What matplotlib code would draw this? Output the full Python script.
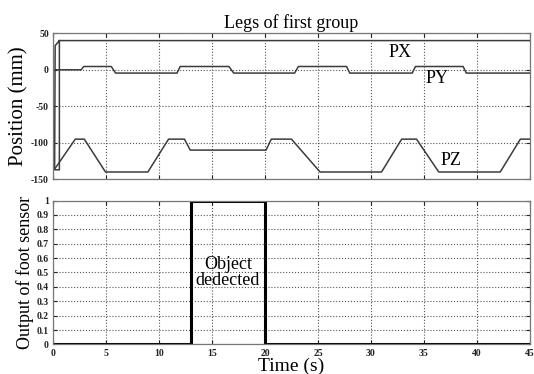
import matplotlib
matplotlib.use('Agg')
import matplotlib.pyplot as plt

# data
px_t = [0.6, 0.6, 0.15, 0.2, 0.6, 45]
px_v = [40, -137, -137, 33, 40, 40]

py_t = [0.2, 2.65, 2.9, 5.5, 5.9, 11.7, 12.0, 16.6, 17.05, 22.8, 23.15, 27.7, 28.0, 33.9, 34.2, 38.7, 39.0, 45]
py_v = [0, 0, 4.5, 4.5, -4.5, -4.5, 4.5, 4.5, -4.5, -4.5, 4.5, 4.5, -4.5, -4.5, 4.5, 4.5, -4.5, -4.5]

pz_t = [0.2, 2.1, 2.95, 4.95, 8.95, 10.9, 12.4, 12.95, 20.1, 20.6, 22.5, 25.2, 31.0, 32.9, 34.3, 36.4, 42.2, 44.1, 45]
pz_v = [-135, -95, -95, -140, -140, -95, -95, -110, -110, -95, -95, -140, -140, -95, -95, -140, -140, -95, -95]

sensor_t = [0, 13, 13, 20, 20, 45]
sensor_v = [0, 0, 1, 1, 0, 0]

x_ticks = [0, 5, 10, 15, 20, 25, 30, 35, 40, 45]
top_yticks = [50, 0, -50, -100, -150]
bot_yticks = [0, 0.1, 0.2, 0.3, 0.4, 0.5, 0.6, 0.7, 0.8, 0.9, 1]
bot_ylabels = ['0', '0.1', '0.2', '0.3', '0.4', '0.5', '0.6', '0.7', '0.8', '0.9', '1']

plt.rcParams['font.family'] = ['Liberation Serif', 'DejaVu Serif']
plt.rcParams['axes.unicode_minus'] = False

line_col = '#3c3c3c'
grid_col = '#555555'

fig = plt.figure(figsize=(5.34, 3.74), dpi=100)
ax1 = fig.add_axes([0.0993, 0.5206, 0.893, 0.3904])
ax2 = fig.add_axes([0.0993, 0.0789, 0.893, 0.385])


def style(ax):
    ax.grid(True, linestyle=':', color=grid_col, linewidth=0.8)
    ax.tick_params(direction='in', top=True, right=True, length=3,
                   labelsize=7, colors='#222222', pad=3)
    for lab in ax.get_xticklabels() + ax.get_yticklabels():
        lab.set_fontweight('bold')
    for s in ax.spines.values():
        s.set_color('#777777')
        s.set_linewidth(0.9)


# top: leg positions
ax1.plot(px_t, px_v, color=line_col, linewidth=1.1)
ax1.plot(py_t, py_v, color=line_col, linewidth=1.1)
ax1.plot(pz_t, pz_v, color=line_col, linewidth=1.1)
ax1.set_xlim(0, 45)
ax1.set_ylim(-150, 50)
ax1.set_xticks(x_ticks)
ax1.set_xticklabels([])
ax1.set_yticks(top_yticks)
style(ax1)
ax1.set_title('Legs of first group', fontsize=13, pad=4)
ax1.set_ylabel('Position (mm)', fontsize=15, labelpad=2)
ax1.text(32.75, 24, 'PX', fontsize=13, ha='center', va='center')
ax1.text(36.2, -12.3, 'PY', fontsize=13, ha='center', va='center')
ax1.text(37.6, -124, 'PZ', fontsize=13, ha='center', va='center')

# bottom: foot sensor
ax2.plot(sensor_t, sensor_v, color='black', linewidth=2.2)
ax2.set_xlim(0, 45)
ax2.set_ylim(0, 1)
ax2.set_xticks(x_ticks)
ax2.set_yticks(bot_yticks)
ax2.set_yticklabels(bot_ylabels)
style(ax2)
ax2.set_xlabel('Time (s)', fontsize=14, labelpad=0)
ax2.set_ylabel('Output of foot sensor', fontsize=13, labelpad=2)
ax2.text(16.5, 0.5, 'Object\ndedected', fontsize=13, ha='center', va='center',
         linespacing=0.9)

fig.savefig('out.png', dpi=100)
